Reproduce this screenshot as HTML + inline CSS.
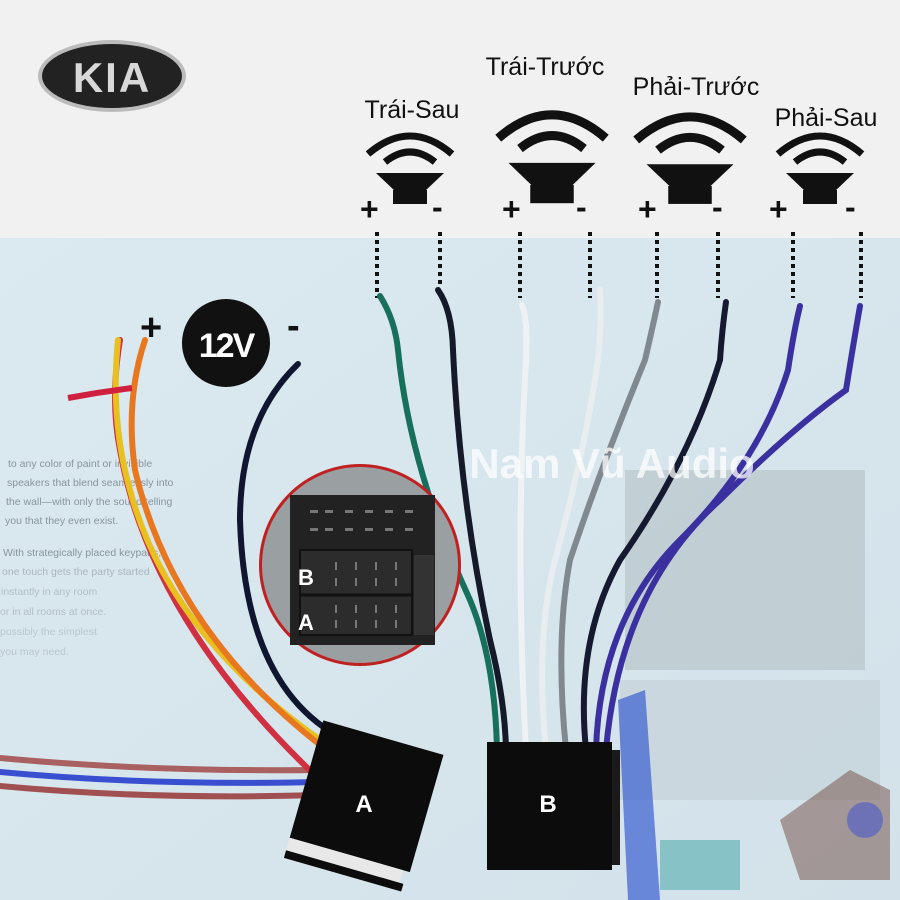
<!DOCTYPE html>
<html><head><meta charset="utf-8"><style>
html,body{margin:0;padding:0;width:900px;height:900px;overflow:hidden;background:#f1f1f1}
svg{display:block}
text{font-family:"Liberation Sans","DejaVu Sans",sans-serif}
</style></head><body>
<svg width="900" height="900" viewBox="0 0 900 900" xmlns="http://www.w3.org/2000/svg">
<defs>
<g id="spk">
<path d="M-42,14 Q0,-22 42,14" fill="none" stroke="#111" stroke-width="7"/>
<path d="M-25,22 Q0,2 25,22" fill="none" stroke="#111" stroke-width="7"/>
<polygon points="-34,33 34,33 14,52 -14,52" fill="#111"/>
<rect x="-17" y="50" width="34" height="14" fill="#111"/>
</g>
<linearGradient id="bg" x1="0" y1="0" x2="1" y2="1"><stop offset="0" stop-color="#dbe9f0"/><stop offset="1" stop-color="#d3e2ea"/></linearGradient>
</defs>
<rect x="0" y="0" width="900" height="238" fill="#f1f1f1"/>
<rect x="0" y="238" width="900" height="662" fill="url(#bg)"/>
<!-- background monitor -->
<rect x="625" y="470" width="240" height="200" fill="#a8b3b9" opacity="0.45"/>
<rect x="620" y="680" width="260" height="120" fill="#bcc8ce" opacity="0.45"/>
<!-- page text -->
<g font-size="10.5" fill="#8a959b">
<text x="8" y="467">to any color of paint or invisible</text>
<text x="7" y="486">speakers that blend seamlessly into</text>
<text x="6" y="505">the wall—with only the sound telling</text>
<text x="5" y="524">you that they even exist.</text>
<text x="3" y="556">With strategically placed keypads,</text>
<text x="2" y="575" opacity=".6">one touch gets the party started</text>
<text x="1" y="595" opacity=".5">instantly in any room</text>
<text x="0" y="615" opacity=".5">or in all rooms at once.</text>
<text x="0" y="635" opacity=".4">possibly the simplest</text>
<text x="0" y="655" opacity=".4">you may need.</text>
</g>
<path d="M618,700 L645,690 L660,900 L628,900 Z" fill="#3a5fd0" opacity=".7"/>
<path d="M780,820 L850,770 L890,790 L890,880 L800,880 Z" fill="#7a5a52" opacity=".55"/>
<circle cx="865" cy="820" r="18" fill="#4a5acd" opacity=".6"/>
<rect x="660" y="840" width="80" height="50" fill="#2a9a9a" opacity=".45"/>
<!-- KIA logo -->
<ellipse cx="112" cy="76" rx="74" ry="36" fill="#bbb"/>
<ellipse cx="112" cy="76" rx="70" ry="32" fill="#222"/>
<text x="112" y="92" text-anchor="middle" font-size="42" font-weight="bold" fill="#d8d8d8" letter-spacing="2">KIA</text>
<g font-size="25" fill="#111">
<text x="412" y="118" text-anchor="middle">Trái-Sau</text>
<text x="545" y="75" text-anchor="middle">Trái-Trước</text>
<text x="696" y="95" text-anchor="middle">Phải-Trước</text>
<text x="826" y="126" text-anchor="middle">Phải-Sau</text>
</g>
<use href="#spk" transform="translate(410,140)"/>
<use href="#spk" transform="translate(552,120) scale(1.28,1.3)"/>
<use href="#spk" transform="translate(690,122) scale(1.28,1.28)"/>
<use href="#spk" transform="translate(820,140)"/>
<g font-size="32" font-weight="bold" fill="#111">
<text x="360" y="220">+</text><text x="432" y="218">-</text>
<text x="502" y="220">+</text><text x="576" y="218">-</text>
<text x="638" y="220">+</text><text x="712" y="218">-</text>
<text x="769" y="220">+</text><text x="845" y="218">-</text>
</g>
<g stroke="#111" stroke-width="4" stroke-dasharray="4,4">
<line x1="377" y1="232" x2="377" y2="298"/><line x1="440" y1="232" x2="440" y2="286"/>
<line x1="520" y1="232" x2="520" y2="298"/><line x1="590" y1="232" x2="590" y2="298"/>
<line x1="657" y1="232" x2="657" y2="298"/><line x1="718" y1="232" x2="718" y2="298"/>
<line x1="793" y1="232" x2="793" y2="298"/><line x1="861" y1="232" x2="861" y2="298"/>
</g>
<g fill="none" stroke-width="6" stroke-linecap="round">
<path d="M380,296 Q395,320 398,350 Q410,470 470,600 Q495,660 497,750" stroke="#17705c"/>
<path d="M438,290 Q452,310 453,350 Q460,500 490,640 Q505,700 506,750" stroke="#141a2a"/>
<path d="M522,305 Q528,320 526,360 Q515,550 526,750" stroke="#eef2f4"/>
<path d="M600,290 Q602,320 598,360 Q585,450 555,560 Q535,640 546,750" stroke="#e8edf0"/>
<path d="M658,302 Q652,330 645,360 Q600,470 570,560 Q555,640 566,750" stroke="#808890"/>
<path d="M726,302 Q722,330 720,360 Q690,460 620,560 Q575,640 586,750" stroke="#151a30"/>
<path d="M800,306 Q794,330 788,370 Q760,460 680,540 Q600,620 596,750" stroke="#3a30a0"/>
<path d="M860,306 Q854,340 846,390 Q790,430 720,500 Q620,590 606,750" stroke="#3a30a0"/>
</g>
<text x="140" y="340" font-size="38" font-weight="bold" fill="#111">+</text>
<circle cx="226" cy="343" r="44" fill="#111"/>
<text x="226" y="357" text-anchor="middle" font-size="34" font-weight="bold" fill="#fff" letter-spacing="-2">12V</text>
<text x="287" y="338" font-size="38" font-weight="bold" fill="#111">-</text>
<g fill="none" stroke-width="6" stroke-linecap="round">
<path d="M0,758 Q150,772 320,770" stroke="#a86060"/>
<path d="M0,772 Q150,786 320,782" stroke="#3a4fd0"/>
<path d="M0,786 Q150,800 320,795" stroke="#a05050"/>
<path d="M120,340 Q110,400 120,450 Q150,620 320,780" stroke="#d03040"/>
<path d="M118,340 Q110,420 130,490 Q170,640 335,750" stroke="#e8c020"/>
<path d="M145,340 Q125,400 135,470 Q175,640 340,760" stroke="#e87820"/>
<path d="M298,364 Q240,420 240,520 Q245,690 345,740" stroke="#101630"/>
</g>
<path d="M68,398 Q100,392 132,388" stroke="#d02040" stroke-width="6" fill="none"/>
<!-- inset -->
<circle cx="360" cy="565" r="101" fill="#c02020"/>
<circle cx="360" cy="565" r="98" fill="#9aa0a2"/>
<rect x="290" y="495" width="145" height="150" fill="#222"/>
<rect x="300" y="550" width="112" height="85" fill="#2c2c2c" stroke="#111" stroke-width="2"/>
<line x1="300" y1="595" x2="412" y2="595" stroke="#111" stroke-width="3"/>
<rect x="414" y="555" width="20" height="80" fill="#333"/>
<g fill="#777">
<rect x="310" y="510" width="8" height="3"/><rect x="325" y="510" width="8" height="3"/><rect x="345" y="510" width="8" height="3"/><rect x="365" y="510" width="8" height="3"/><rect x="385" y="510" width="8" height="3"/><rect x="405" y="510" width="8" height="3"/>
<rect x="310" y="528" width="8" height="3"/><rect x="325" y="528" width="8" height="3"/><rect x="345" y="528" width="8" height="3"/><rect x="365" y="528" width="8" height="3"/><rect x="385" y="528" width="8" height="3"/><rect x="405" y="528" width="8" height="3"/>
<rect x="335" y="562" width="2" height="8"/><rect x="355" y="562" width="2" height="8"/><rect x="375" y="562" width="2" height="8"/><rect x="395" y="562" width="2" height="8"/>
<rect x="335" y="578" width="2" height="8"/><rect x="355" y="578" width="2" height="8"/><rect x="375" y="578" width="2" height="8"/><rect x="395" y="578" width="2" height="8"/>
<rect x="335" y="605" width="2" height="8"/><rect x="355" y="605" width="2" height="8"/><rect x="375" y="605" width="2" height="8"/><rect x="395" y="605" width="2" height="8"/>
<rect x="335" y="620" width="2" height="8"/><rect x="355" y="620" width="2" height="8"/><rect x="375" y="620" width="2" height="8"/><rect x="395" y="620" width="2" height="8"/>
</g>
<text x="298" y="585" font-size="22" font-weight="bold" fill="#fff">B</text>
<text x="298" y="630" font-size="22" font-weight="bold" fill="#fff">A</text>
<!-- connector A -->
<g transform="translate(365,800) rotate(16)">
<rect x="-62" y="-65" width="125" height="122" fill="#0c0c0c"/>
<rect x="-62" y="57" width="118" height="14" fill="#e8e8e8"/>
<rect x="-62" y="70" width="122" height="8" fill="#0c0c0c"/>
</g>
<text x="364" y="812" text-anchor="middle" font-size="24" font-weight="bold" fill="#fff">A</text>
<rect x="487" y="742" width="125" height="128" fill="#0c0c0c"/>
<rect x="612" y="750" width="8" height="115" fill="#1a1a1a"/>
<text x="548" y="812" text-anchor="middle" font-size="24" font-weight="bold" fill="#fff">B</text>
<text x="612" y="478" text-anchor="middle" font-size="42" font-weight="bold" fill="#fff" opacity="0.75">Nam Vũ Audio</text>
</svg>
</body></html>
